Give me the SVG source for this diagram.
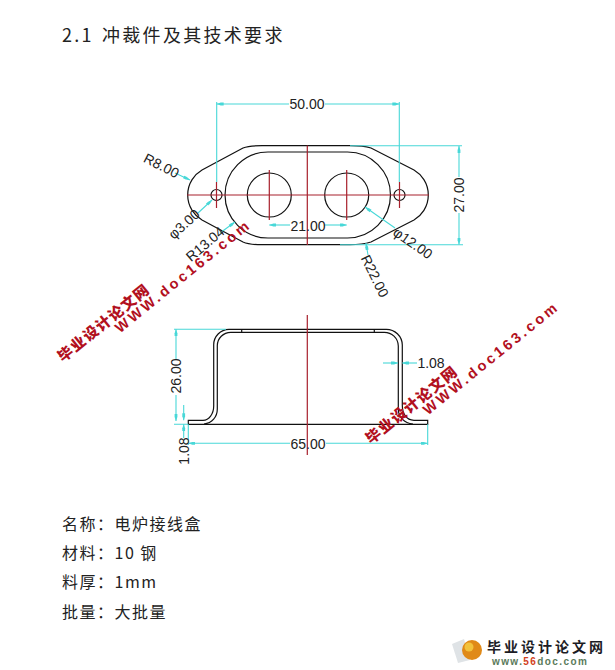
<svg xmlns="http://www.w3.org/2000/svg" width="615" height="670" viewBox="0 0 615 670">
<style>
.cjk{font-family:"Noto Sans CJK SC","Liberation Sans",sans-serif;font-size:16px;letter-spacing:1.5px;fill:#222}
.part{fill:none;stroke:#111;stroke-width:1.2}
.center{fill:none;stroke:#a8202c;stroke-width:1.2}
.dim{fill:none;stroke:#48d8d8;stroke-width:1.1}
.ar{marker-end:url(#a)}
.dt{font-family:"Liberation Sans",Arial,sans-serif;font-size:14px;fill:#222;text-anchor:middle;dominant-baseline:central}
.wm{font-family:"Noto Sans CJK SC",sans-serif;font-weight:900;font-size:15px;letter-spacing:1.2px;fill:#b2101e;text-anchor:middle;dominant-baseline:central}
.wu{font-family:"Liberation Sans",Arial,sans-serif;font-weight:700;font-size:14.5px;letter-spacing:3px;fill:#b2101e;text-anchor:middle;dominant-baseline:central}
</style>
<defs>
<marker id="a" markerUnits="userSpaceOnUse" markerWidth="8" markerHeight="6" refX="7" refY="3" orient="auto-start-reverse"><path d="M0,1.6H3L7,3L3,4.4H0Z" fill="#48d8d8"/></marker>
</defs>
<rect width="615" height="670" fill="#fff"/>
<text id="title" x="62" y="42" style="font-family:'Noto Sans CJK SC','Liberation Sans',sans-serif;font-size:18px;letter-spacing:2.3px;fill:#222">2.1<tspan x="102">冲裁件及其技术要求</tspan></text>

<g id="top-view">
<path class="part" d="M262,145.700H350C358,145.700 364,146 371,148L414,170A29,29 0 0 1 414,220L371,242C362,244.700 356,244.700 350,244.700H262C255,244.700 249,244.700 243,242L202,220A29,29 0 0 1 202,170L243,148C249,145.700 255,145.700 262,145.700Z"/>
<path class="part" d="M268,152H347.500A43,43 0 0 1 347.500,238H268A43,43 0 0 1 268,152Z"/>
<circle class="part" cx="269.300" cy="195" r="22"/>
<circle class="part" cx="346.700" cy="195" r="22"/>
<circle class="part" cx="216.500" cy="195" r="5.500"/>
<circle class="part" cx="399.500" cy="195" r="5.500"/>
<path class="center" d="M187,195H429M307.300,145.500V245M269.300,170V220M346.700,170V220M216.500,182V208M399.500,182V208"/>
</g>

<g id="side-view">
<path class="part" d="M188.300,420.300H203C209,420 213.700,414 213.700,406V345A15.500,15.500 0 0 1 229,329.300H386A16,16 0 0 1 402.300,345V405C402.300,413 406,420.300 414,420.300H427.700V424.300H188.300Z"/>
<path class="part" d="M204,424C212,423 217.300,417 217.300,409V346A13.500,13.500 0 0 1 231,332.300H384A14,14 0 0 1 398.300,346V409C398.300,417 404,423 413,424"/>
<path class="part" d="M241.700,329.300V332.300M374.300,329.300V332.300"/>
<path class="center" d="M307.300,315V455"/>
</g>

<g id="connectors">
<path class="dim" d="M216.700,182V102M399.300,182V102M350,145.700H462M340,244.700H463"/>
<path class="dim ar" d="M289,104H216.700"/><path class="dim ar" d="M325,104H399.300"/>
<path class="dim ar" d="M459,177V146"/><path class="dim ar" d="M459,213V244.500"/>
<path class="dim ar" d="M290,225H269.300"/><path class="dim ar" d="M324,225H346.700"/>
<path class="dim ar" d="M175,173L190,180"/>
<path class="dim ar" d="M198,213L212,200"/>
<path class="dim ar" d="M220,233L235,222"/>
<path class="dim ar" d="M395,228L365,207"/>
<path class="dim ar" d="M368,255L366,243"/>
<path class="dim" d="M174,329.300H226M174,424.300H188M188.300,424.300V445M427.700,424.300V445"/>
<path class="dim ar" d="M176,359V329.300"/><path class="dim ar" d="M176,395V421"/>
<path class="dim ar" d="M183.700,405V420.300"/><path class="dim ar" d="M183.700,438V424.300"/>
<path class="dim ar" d="M290,443.300H188.300"/><path class="dim ar" d="M326,443.300H427.700"/>
<path class="dim ar" d="M383,363H398"/><path class="dim ar" d="M417,363H402.300"/>
</g>

<g id="dimension-labels">
<text class="dt" x="307" y="104">50.00</text>
<text class="dt" x="459" y="195" transform="rotate(-90 459 195)">27.00</text>
<text class="dt" x="161.500" y="165.500" transform="rotate(27 161.500 165.500)">R8.00</text>
<text class="dt" x="184" y="224" transform="rotate(-42 184 224)">φ3.00</text>
<text class="dt" x="205" y="244" transform="rotate(-40 205 244)">R13.04</text>
<text class="dt" x="308" y="226">21.00</text>
<text class="dt" x="413" y="243" transform="rotate(35 413 243)">φ12.00</text>
<text class="dt" x="375" y="276" transform="rotate(64 375 276)">R22.00</text>
<text class="dt" x="176" y="376" transform="rotate(-90 176 376)">26.00</text>
<text class="dt" x="184" y="451" transform="rotate(-90 184 451)">1.08</text>
<text class="dt" x="308" y="444">65.00</text>
<text class="dt" x="431" y="363">1.08</text>
</g>

<g id="spec">
<text class="cjk" x="62" y="530">名称：电炉接线盒</text>
<text class="cjk" x="62" y="559">材料：10 钢</text>
<text class="cjk" x="62" y="588">料厚：1mm</text>
<text class="cjk" x="62" y="618">批量：大批量</text>
</g>

<g id="watermarks">
<text class="wm" x="103" y="322" transform="rotate(-39 103 322)">毕业设计论文网</text>
<text class="wu" x="183" y="276" transform="rotate(-39 183 276)">WWW.doc163.com</text>
<text class="wm" x="411" y="404" transform="rotate(-39 411 404)">毕业设计论文网</text>
<text class="wu" x="491" y="358" transform="rotate(-39 491 358)">WWW.doc163.com</text>
</g>

<g id="logo">
<path d="M452,644L464,639L470,660L458,663Z" fill="#dfe3e6"/>
<circle cx="472" cy="650" r="10" fill="#e08a18"/>
<circle cx="469" cy="647" r="4.500" fill="#f2c23c"/>
<text x="487" y="652" style="font-family:'Noto Sans CJK SC',sans-serif;font-weight:700;font-size:14px;letter-spacing:3px;fill:#1c1c24">毕业设计论文网</text>
<text x="492" y="665" style="font-family:'Liberation Sans',sans-serif;font-weight:700;font-size:10px;letter-spacing:1.400px;fill:#5a7a5a">www.<tspan fill="#d2401c">56</tspan>doc.com</text>
</g>
</svg>
